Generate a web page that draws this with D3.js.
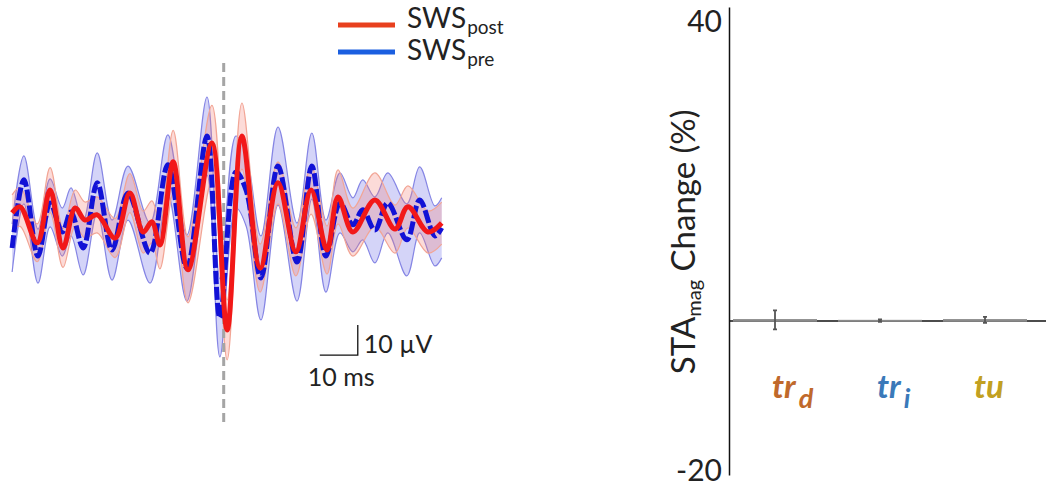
<!DOCTYPE html>
<html>
<head>
<meta charset="utf-8">
<script src="https://cdn.jsdelivr.net/npm/d3@7"></script>
<style>
  body { margin: 0; background: #fff; }
  svg { display: block; font-family: Lato, "Open Sans", sans-serif; }
</style>
</head>
<body>
<svg id="chart" width="1046" height="490"></svg>
<script>
// spike-triggered averages, time (ms) vs amplitude (uV)
const postTime = [-55.7, -53.6, -49.1, -45.7, -42.3, -39.1, -36.5, -33.3, -28.6, -24.7, -21.2, -18.9, -16.8, -13.3, -9.4, -3.1, 0.9, 4.8, 9.6, 14.3, 19.0, 23.0, 27.2, 30.1, 34.0, 39.8, 45.1, 48.5, 53.8, 57.4];
const postMean = [0.7, 2.7, -9.3, 8.3, -11, 2.3, -1.7, 0, -7.7, 7.3, -5.7, -2.3, -10, 17.7, -18.3, 24, -38.3, 26.3, -17.7, 10.7, -12.3, 8.3, -11.7, 6, -5.7, 5, -4.7, 2.7, -5.7, -2.7];
const postSem = [6, 6.5, 6.3, 7.5, 6.5, 6, 6, 6, 6.5, 6.5, 7, 7, 8, 10.5, 11, 12.5, 10, 11, 8, 7, 8, 8, 8, 9, 8, 9, 8, 7, 7, 7];

const preTime = [-55.7, -52.6, -48.9, -45.7, -42.5, -40.2, -37.0, -33.3, -29.4, -25.2, -19.4, -14.7, -9.7, -4.4, -1.0, 3.2, 5.9, 9.8, 14.3, 19.3, 23.2, 26.9, 30.6, 34.0, 36.6, 39.8, 43.2, 48.2, 51.6, 55.6, 57.4];
const preMean = [-11, 11.7, -13.7, 4, -5.7, 1, -11, 10.7, -11.7, 7.3, -12.7, 16.7, -17.7, 26.3, -34.3, 14.3, 8.3, -21, 16.3, -15.7, 16.3, -13.7, 4, -3.3, 1.7, -5, 4, -8.3, 5, -7, -4.3];
const preSem = [8, 8, 9, 8, 8, 8, 9, 10, 10, 9, 10, 10, 11, 13, 13, 12, 12, 14, 13, 13, 11, 12, 10, 9, 10, 11, 10, 12, 11, 10, 10];

// STAmag change per cell type (%)
const categories = ['tr_d', 'tr_i', 'tu'];
const catMain = ['tr', 'tr', 'tu'];
const catSub = ['d', 'i', ''];
const changeMean = [0.15, 0.05, 0.15];
const changeErr = [1.25, 0.15, 0.4];
const yTicks = [-20, 40];

const catColors = ['#c0692b', '#3a79b9', '#c2a021'];

const svg = d3.select('#chart');

// ---------- left: waveforms ----------
const xL = d3.scaleLinear().domain([-56, 58]).range([11, 444]);
const yL = d3.scaleLinear().domain([-69, 52.3]).range([422, 58]);

const rows = (t, m, s) => t.map((d, i) => ({t: d, m: m[i], s: s[i]}));
const post = rows(postTime, postMean, postSem);
const pre = rows(preTime, preMean, preSem);

const curve = d3.curveCatmullRom.alpha(0.5);
const band = d3.area().curve(curve)
  .x(d => xL(d.t)).y0(d => yL(d.m - d.s)).y1(d => yL(d.m + d.s));
const edge = sign => d3.line().curve(curve)
  .x(d => xL(d.t)).y(d => yL(d.m + sign * d.s));
const mean = d3.line().curve(curve).x(d => xL(d.t)).y(d => yL(d.m));

function drawBand(data, fill, stroke) {
  svg.append('path').attr('d', band(data)).attr('fill', fill);
  [1, -1].forEach(s => svg.append('path')
    .attr('d', edge(s)(data))
    .attr('fill', 'none').attr('stroke', stroke).attr('stroke-width', 1.2));
}
drawBand(pre, 'rgba(95,95,230,0.27)', '#8585e4');
drawBand(post, 'rgba(245,125,115,0.28)', '#f2a595');

svg.append('line')
  .attr('x1', xL(0)).attr('x2', xL(0))
  .attr('y1', yL.range()[0]).attr('y2', yL.range()[1])
  .attr('stroke', '#a5a5a5').attr('stroke-width', 3)
  .attr('stroke-dasharray', '9,5');

svg.append('path').attr('d', mean(pre))
  .attr('fill', 'none').attr('stroke', '#1212d6').attr('stroke-width', 5)
  .attr('stroke-dasharray', '13,3');
svg.append('path').attr('d', mean(post))
  .attr('fill', 'none').attr('stroke', '#f21818').attr('stroke-width', 5)
  .attr('stroke-linejoin', 'round');

// scale bar: 10 ms x 10 uV
const barT = 35.3, barV = -46.7;
svg.append('path')
  .attr('d', `M${xL(barT - 10)},${yL(barV)}H${xL(barT)}V${yL(barV + 10)}`)
  .attr('fill', 'none').attr('stroke', '#111').attr('stroke-width', 1.3);
svg.append('text').attr('x', xL(barT) + 6).attr('y', yL(barV) - 2)
  .attr('font-size', 25).attr('fill', '#222').text('10 µV');
svg.append('text').attr('x', xL(barT - 10) - 12).attr('y', yL(barV) + 31)
  .attr('font-size', 25).attr('fill', '#222').text('10 ms');

// legend
const legend = [
  {main: 'SWS', sub: 'post', color: '#e8401e', y: 25, base: 28},
  {main: 'SWS', sub: 'pre', color: '#1b5fe0', y: 52, base: 60}
];
legend.forEach(d => {
  svg.append('line').attr('x1', 338).attr('x2', 395).attr('y1', d.y).attr('y2', d.y)
    .attr('stroke', d.color).attr('stroke-width', 5);
  const main = svg.append('text').attr('x', 407).attr('y', d.base)
    .attr('font-size', 28).attr('fill', '#222').text(d.main);
  const w = main.node().getComputedTextLength();
  svg.append('text').attr('x', 407 + w + 1).attr('y', d.base + 6)
    .attr('font-size', 19).attr('fill', '#222').text(d.sub);
});

// ---------- right: STAmag change ----------
const xR = d3.scaleBand().domain(categories).range([722.5, 1037.5])
  .paddingInner(0.2).paddingOuter(0.1);
const yR = d3.scaleLinear().domain([-20.4, 41.6]).range([475, 7]);
const xc = c => xR(c) + xR.bandwidth() / 2;

svg.append('line')
  .attr('x1', 729).attr('x2', 1046).attr('y1', yR(0)).attr('y2', yR(0))
  .attr('stroke', '#111').attr('stroke-width', 1.5);

svg.selectAll('rect.bar')
  .data(categories)
  .join('rect')
  .attr('class', 'bar')
  .attr('x', d => xR(d))
  .attr('width', xR.bandwidth())
  .attr('y', (d, i) => Math.min(yR(0), yR(changeMean[i])) - 0.8)
  .attr('height', (d, i) => Math.abs(yR(0) - yR(changeMean[i])) + 1.6)
  .attr('fill', '#8a8a8a');

categories.forEach((c, i) => {
  const lo = yR(changeMean[i] - changeErr[i]);
  const hi = yR(changeMean[i] + changeErr[i]);
  svg.append('path')
    .attr('d', `M${xc(c)},${lo}V${hi}M${xc(c) - 2},${lo}h4M${xc(c) - 2},${hi}h4`)
    .attr('stroke', '#555').attr('stroke-width', 1.8).attr('fill', 'none');
});

svg.append('g')
  .attr('transform', 'translate(729,0)')
  .call(d3.axisLeft(yR).tickValues(yTicks).tickFormat(d => String(d))
    .tickSize(0).tickSizeOuter(0).tickPadding(7))
  .call(g => g.select('.domain').attr('stroke', '#111').attr('stroke-width', 1.5))
  .call(g => g.selectAll('text').attr('font-size', 30).attr('fill', '#222')
    .attr('dy', d => d > 0 ? '0.4em' : '0.3em')
    .attr('font-family', 'Lato, "Open Sans", sans-serif'));

// axis title
const yt = svg.append('text')
  .attr('transform', `translate(695,${yR(10.5)}) rotate(-90)`)
  .attr('text-anchor', 'middle').attr('font-size', 33).attr('fill', '#222');
yt.append('tspan').text('STA');
yt.append('tspan').attr('font-size', 20).attr('dy', 6).text('mag');
yt.append('tspan').attr('dy', -6).text(' Change (%)');

// category labels
categories.forEach((c, i) => {
  const t = svg.append('text')
    .attr('y', 398)
    .attr('font-size', 33).attr('font-weight', 'bold').attr('font-style', 'italic')
    .attr('fill', catColors[i]);
  if (catSub[i]) {
    t.attr('x', xc(c) - 3);
    t.append('tspan').text(catMain[i]);
    t.append('tspan').attr('font-size', 27).attr('dx', 3).attr('dy', 10).text(catSub[i]);
  } else {
    t.attr('x', xc(c) + 4).attr('text-anchor', 'middle').text(catMain[i]);
  }
});
</script>
</body>
</html>
